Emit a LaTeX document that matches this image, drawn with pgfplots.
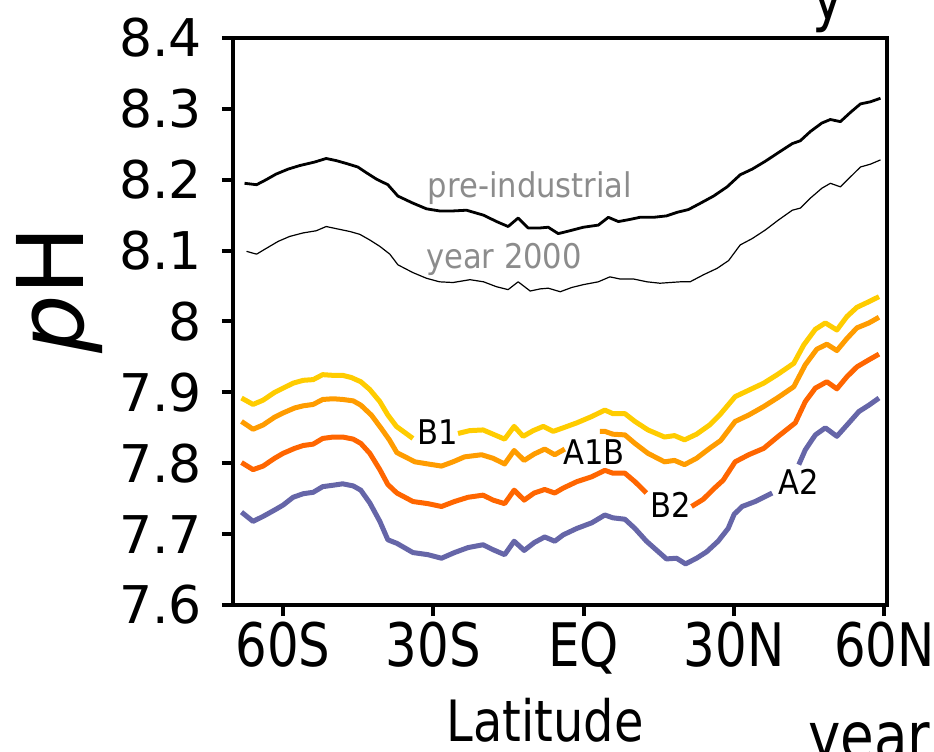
\documentclass[border=0pt]{standalone}
\usepackage{pgfplots}
\pgfplotsset{compat=1.18}
\usepackage{fontspec}
\setmainfont{DejaVu Sans}
\newfontfamily\xfont[FakeStretch=0.83]{DejaVu Sans}
\newfontfamily\latfont[FakeStretch=0.84]{DejaVu Sans}
\newfontfamily\lfont[FakeStretch=0.9]{DejaVu Sans}
\definecolor{cB1}{RGB}{255,204,0}
\definecolor{cA1B}{RGB}{255,156,0}
\definecolor{cB2}{RGB}{255,102,0}
\definecolor{cA2}{RGB}{102,102,168}
\definecolor{labgray}{RGB}{140,140,140}
\begin{document}
\begin{tikzpicture}[x=1pt,y=1pt]
\useasboundingbox (0,0) rectangle (934,752);
\begin{axis}[
  at={(233pt,147pt)}, anchor=south west,
  scale only axis, width=654pt, height=567pt,
  xmin=-70, xmax=60.5, ymin=7.6, ymax=8.4,
  xtick={-60,-30,0,30,60},
  xticklabels={60S,30S,EQ,30N,60N},
  ytick={7.6,7.7,7.8,7.9,8,8.1,8.2,8.3,8.4},
  yticklabels={7.6,7.7,7.8,7.9,8,8.1,8.2,8.3,8.4},
  tick align=outside, xtick pos=left, ytick pos=left,
  major tick length=11pt,
  tick style={black, line width=4pt},
  axis line style={line width=4pt},
  /pgf/number format/assume math mode=true,
  yticklabel style={font=\fontsize{52}{52}\selectfont, inner sep=0pt, xshift=-20pt},
  xticklabel style={font=\xfont\fontsize{60}{60}\selectfont, inner sep=0pt, yshift=-6pt},
  xlabel={Latitude},
  xlabel style={font=\latfont\fontsize{57}{57}\selectfont, at={(axis description cs:0.477,-0.204)}, anchor=center, inner sep=0pt},
  ylabel={\textit{p}H},
  ylabel style={font=\fontsize{92}{92}\selectfont, at={(axis description cs:-0.265,0.556)}, anchor=center, rotate=0, inner sep=0pt},
  unbounded coords=jump,
]
% pre-industrial
\addplot[black, line width=2.8pt, line join=round] table {
-67.7 8.195
-65.3 8.193
-63.4 8.200
-61.4 8.208
-59.0 8.215
-56.7 8.220
-53.7 8.225
-51.4 8.230
-49.4 8.227
-47.4 8.223
-45.1 8.218
-43.4 8.210
-41.4 8.201
-39.1 8.193
-37.1 8.177
-34.1 8.167
-31.4 8.159
-28.8 8.156
-26.1 8.156
-23.4 8.157
-20.0 8.150
-17.4 8.141
-15.1 8.134
-13.1 8.146
-11.1 8.132
-8.7 8.132
-7.1 8.133
-5.1 8.124
-2.8 8.128
-0.1 8.133
2.9 8.136
4.9 8.147
6.9 8.141
9.2 8.144
11.2 8.147
13.9 8.147
16.5 8.149
18.6 8.154
20.9 8.158
23.3 8.167
25.9 8.177
28.6 8.190
31.2 8.207
33.6 8.215
36.2 8.226
39.2 8.240
41.6 8.251
43.2 8.255
45.2 8.268
47.5 8.280
49.2 8.285
51.2 8.282
53.2 8.295
55.2 8.307
57.2 8.310
59.2 8.315
};
% year 2000
\addplot[black, line width=1.2pt, line join=round] table {
-67.3 8.099
-65.3 8.095
-63.4 8.103
-61.0 8.113
-58.7 8.120
-56.0 8.125
-53.4 8.128
-51.4 8.134
-49.4 8.131
-46.7 8.127
-44.7 8.123
-42.7 8.115
-40.7 8.106
-38.7 8.095
-37.1 8.080
-34.1 8.069
-31.4 8.061
-28.8 8.056
-26.1 8.055
-22.7 8.059
-20.0 8.056
-17.4 8.049
-15.1 8.045
-13.1 8.056
-10.7 8.043
-8.7 8.046
-7.1 8.047
-4.7 8.042
-2.4 8.048
-0.1 8.052
2.9 8.056
5.2 8.063
7.2 8.060
9.9 8.060
12.6 8.056
15.2 8.054
17.2 8.055
19.3 8.056
21.2 8.056
23.9 8.066
26.6 8.075
28.9 8.086
31.2 8.108
33.6 8.117
36.2 8.129
38.8 8.143
41.6 8.157
43.2 8.160
45.2 8.174
47.5 8.188
49.2 8.195
51.2 8.190
53.2 8.204
55.2 8.218
57.2 8.222
59.2 8.228
};
% B1
\addplot[cB1, line width=5pt, line join=round] table {
-68.3 7.892
-66.0 7.883
-64.0 7.889
-61.7 7.900
-60.0 7.906
-58.0 7.913
-56.0 7.917
-54.0 7.918
-52.1 7.925
-50.0 7.924
-48.1 7.924
-46.4 7.921
-44.5 7.915
-42.7 7.904
-40.7 7.887
-39.1 7.868
-37.4 7.852
-34.1 7.835
-33.8 nan
-25.1 7.842
-22.8 7.846
-20.1 7.847
-18.1 7.841
-15.8 7.834
-13.9 7.852
-12.1 7.838
-10.1 7.846
-8.1 7.852
-6.1 7.845
-4.1 7.850
-1.4 7.857
1.6 7.866
4.2 7.875
5.8 7.870
8.2 7.870
10.2 7.859
12.8 7.847
16.1 7.837
18.1 7.839
20.1 7.833
22.5 7.841
25.1 7.854
27.1 7.868
30.2 7.894
32.9 7.903
35.9 7.913
38.6 7.925
41.9 7.941
43.9 7.967
46.2 7.989
48.2 7.998
50.5 7.988
52.5 8.007
54.5 8.020
56.9 8.028
58.9 8.035
};
% A1B
\addplot[cA1B, line width=5pt, line join=round] table {
-68.3 7.859
-66.0 7.848
-64.0 7.854
-61.7 7.865
-60.0 7.871
-57.7 7.878
-56.0 7.881
-54.0 7.883
-52.1 7.890
-50.0 7.891
-48.1 7.890
-46.0 7.888
-44.5 7.882
-42.4 7.868
-40.5 7.850
-38.8 7.833
-37.3 7.815
-33.7 7.802
-31.1 7.799
-28.4 7.796
-26.1 7.802
-23.8 7.809
-20.4 7.812
-18.1 7.807
-15.8 7.799
-13.9 7.818
-11.9 7.804
-9.9 7.813
-7.8 7.820
-5.8 7.812
-3.8 7.820
-3.5 nan
3.2 7.845
4.2 7.845
5.8 7.841
8.2 7.840
10.2 7.828
12.8 7.814
16.1 7.802
18.1 7.804
20.1 7.798
22.5 7.807
25.1 7.821
27.3 7.832
30.2 7.859
32.9 7.868
35.9 7.880
38.8 7.893
41.9 7.908
44.2 7.939
46.5 7.961
48.5 7.968
50.5 7.959
52.5 7.976
54.5 7.991
56.9 7.998
58.9 8.006
};
% B2
\addplot[cB2, line width=5pt, line join=round] table {
-68.3 7.801
-66.0 7.791
-64.0 7.796
-61.7 7.807
-60.0 7.814
-57.7 7.821
-56.0 7.825
-54.0 7.827
-52.1 7.835
-50.0 7.837
-48.1 7.837
-46.0 7.834
-44.5 7.828
-42.7 7.814
-40.7 7.791
-39.1 7.770
-37.3 7.758
-34.1 7.746
-31.1 7.743
-28.4 7.739
-25.8 7.746
-23.1 7.752
-20.1 7.755
-18.1 7.748
-15.8 7.743
-13.9 7.762
-11.9 7.748
-9.9 7.758
-7.8 7.763
-5.8 7.758
-4.1 7.765
-1.4 7.774
1.6 7.781
4.2 7.790
5.8 7.786
8.2 7.786
10.2 7.774
12.5 7.758
12.8 nan
21.5 7.739
23.8 7.749
26.1 7.765
27.8 7.776
30.2 7.802
32.9 7.812
35.9 7.821
38.8 7.838
42.2 7.857
44.2 7.887
46.2 7.906
48.5 7.915
50.5 7.905
52.5 7.922
54.5 7.936
56.9 7.946
58.9 7.954
};
% A2
\addplot[cA2, line width=5pt, line join=round] table {
-68.3 7.731
-66.0 7.718
-64.0 7.725
-61.7 7.734
-60.0 7.741
-58.0 7.752
-56.0 7.757
-54.0 7.759
-52.1 7.767
-50.0 7.769
-48.1 7.771
-46.0 7.768
-44.5 7.762
-42.7 7.744
-40.7 7.718
-39.1 7.692
-37.3 7.687
-34.1 7.674
-31.1 7.671
-28.4 7.666
-25.8 7.674
-23.1 7.681
-20.1 7.685
-18.1 7.678
-15.8 7.671
-13.9 7.690
-11.9 7.677
-9.9 7.688
-7.8 7.696
-5.8 7.690
-4.1 7.699
-1.4 7.708
1.6 7.716
4.2 7.727
5.8 7.723
8.2 7.721
10.2 7.708
12.5 7.690
14.1 7.680
16.5 7.665
18.5 7.666
20.3 7.658
22.5 7.666
24.5 7.675
26.8 7.690
28.8 7.708
30.0 7.728
31.6 7.739
34.2 7.746
37.6 7.758
37.9 nan
42.9 7.798
44.2 7.819
46.2 7.840
48.2 7.850
50.5 7.838
52.9 7.857
54.9 7.873
56.9 7.882
58.9 7.892
};
\node[font=\lfont\fontsize{34}{34}\selectfont, text=labgray, inner sep=0pt] at (axis cs:-10.73,8.1884) {pre-industrial};
\node[font=\lfont\fontsize{34}{34}\selectfont, text=labgray, inner sep=0pt] at (axis cs:-15.92,8.0869) {year 2000};
\node[font=\lfont\fontsize{34}{34}\selectfont, inner sep=0pt] at (axis cs:-29.09,7.8436) {B1};
\node[font=\lfont\fontsize{34}{34}\selectfont, inner sep=0pt] at (axis cs:2.04,7.8161) {A1B};
\node[font=\lfont\fontsize{34}{34}\selectfont, inner sep=0pt] at (axis cs:17.41,7.7413) {B2};
\node[font=\lfont\fontsize{34}{34}\selectfont, inner sep=0pt] at (axis cs:42.95,7.7731) {A2};
\end{axis}
\node[anchor=north west, inner sep=0pt, font=\xfont\fontsize{66}{66}\selectfont] at (808,30) {year};
\node[anchor=base west, inner sep=0pt, font=\xfont\fontsize{64}{64}\selectfont] at (812,732) {y};
\end{tikzpicture}
\end{document}
